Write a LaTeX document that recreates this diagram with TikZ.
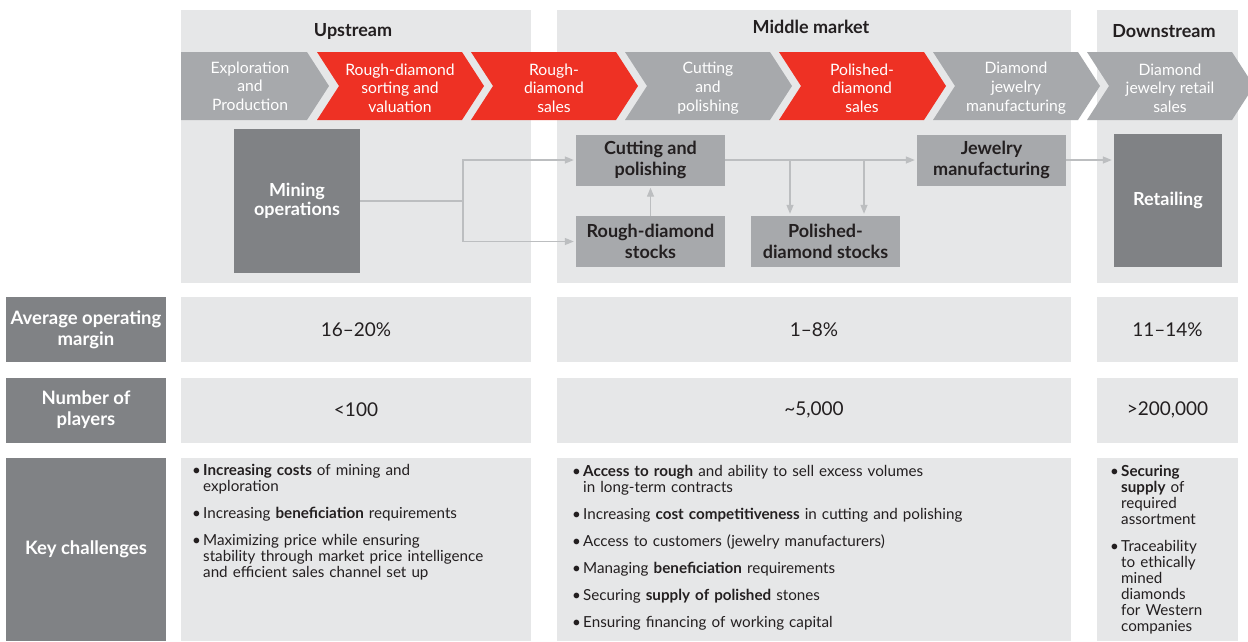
\documentclass[tikz,border=0pt]{standalone}
\usepackage{fontspec}
\setmainfont{Lato}
\usetikzlibrary{arrows.meta}
\definecolor{panelgray}{HTML}{E6E7E8}
\definecolor{chevgray}{HTML}{A7A9AC}
\definecolor{chevred}{HTML}{EE3124}
\definecolor{darkgray}{HTML}{808285}
\definecolor{midgray}{HTML}{A7A9AC}
\definecolor{linegray}{HTML}{BCBEC0}
\definecolor{inkgray}{HTML}{231F20}
\newcommand\keyitem[1]{\hangindent=11pt\hangafter=1\noindent\makebox[11pt][l]{\textbullet}#1\par\vspace{11pt}}
\tikzset{
  panel/.style={fill=panelgray},
  headtext/.style={font=\fontsize{18}{21}\selectfont\bfseries, text=inkgray},
  chevtext/.style={align=center, text=white, inner sep=0, font=\fontsize{15.7}{18.7}\selectfont},
  darkbox/.style={fill=darkgray, text=white, align=center, inner sep=0, font=\fontsize{18}{19}\selectfont\bfseries},
  midbox/.style={fill=midgray, text=inkgray, align=center, inner sep=0, minimum width=149, minimum height=51, font=\fontsize{18}{21}\selectfont\bfseries},
  rowlabel/.style={fill=darkgray, text=white, align=center, inner sep=0, minimum width=160, font=\fontsize{18.5}{21}\selectfont\bfseries},
  rowvalue/.style={fill=panelgray, text=inkgray, inner sep=0, minimum height=65, font=\fontsize{19}{21}\selectfont},
  keytext/.style={anchor=north west, inner sep=0, text=inkgray, align=left, font=\fontsize{15.2}{16}\selectfont},
  flow/.style={draw=linegray, line width=1.3pt},
  flowarrow/.style={flow, -{Triangle[length=9pt,width=7pt]}, shorten >=2pt}
}
\begin{document}
\begin{tikzpicture}[x=1pt,y=-1pt]
\useasboundingbox (0,0) rectangle (1248,641);
\fill[white] (0,0) rectangle (1248,641);
% column panels
\fill[panel] (181,10) rectangle (531,283);
\fill[panel] (557,10) rectangle (1071,283);
\fill[panel] (1097,10) rectangle (1238,283);
\node[headtext] (upstream) at (353,31) {Upstream};
\node[headtext] (midmarket) at (811,27) {Middle market};
\node[headtext] (downstream) at (1164,31) {Downstream};
% value chain steps
\fill[chevgray] (181,52) -- (307,52) -- (329,86) -- (307,120) -- (181,120) -- cycle;
\node[chevtext] (explore) at (250,86) {Exploration\\and\\Production};
\foreach \x/\c/\n/\t in {317/chevred/sorting/{Rough-diamond\\sorting and\\valuation},
  471/chevred/roughsales/{Rough-\\diamond\\sales},
  625/chevgray/cutstep/{Cutting\\and\\polishing},
  779/chevred/polsales/{Polished-\\diamond\\sales},
  933/chevgray/jewstep/{Diamond\\jewelry\\manufacturing},
  1087/chevgray/retailstep/{Diamond\\jewelry retail\\sales}}
{
  \fill[\c] (\x,52) -- ++(145,0) -- ++(22,34) -- ++(-22,34) -- ++(-145,0) -- ++(22,-34) -- cycle;
  \node[chevtext] (\n) at (\x+83,88) {\t};
}
% flow of goods
\node[darkbox, minimum width=126, minimum height=144] (mining) at (297,201) {Mining\\operations};
\node[midbox] (cutting) at (650.5,160) {Cutting and\\polishing};
\node[midbox] (roughstock) at (650.5,241.5) {Rough-diamond\\stocks};
\node[midbox] (polstock) at (825.5,241.5) {Polished-\\diamond stocks};
\node[midbox] (jewelry) at (991.5,160) {Jewelry\\manufacturing};
\node[darkbox, minimum width=108, minimum height=133] (retail) at (1168,200.5) {Retailing};
\coordinate (split) at (463,201);
\coordinate (drop1) at (790,160);
\coordinate (drop2) at (864,160);
\draw[flow] (mining.east) -- (split);
\draw[flowarrow] (split) |- (cutting.west);
\draw[flowarrow] (split) |- (roughstock.west);
\draw[flowarrow] (roughstock.north) -- (cutting.south);
\draw[flowarrow] (cutting.east) -- (jewelry.west);
\draw[flowarrow] (drop1) -- (drop1 |- polstock.north);
\draw[flowarrow] (drop2) -- (drop2 |- polstock.north);
\draw[flowarrow] (jewelry.east) -- (jewelry.east -| retail.west);
% rows
\node[rowlabel, minimum height=65] (marginlbl) at (86,329.5) {Average operating\\margin};
\node[rowvalue, minimum width=350] (marginup) at (356,329.5) {16–20\%};
\node[rowvalue, minimum width=514] (marginmid) at (814,329.5) {1–8\%};
\node[rowvalue, minimum width=141] (margindown) at (1167.5,329.5) {11–14\%};
\node[rowlabel, minimum height=65] (playerlbl) at (86,410) {Number of\\players};
\node[rowvalue, minimum width=350] (playerup) at (356,410) {<100};
\node[rowvalue, minimum width=514] (playermid) at (814,410) {\textasciitilde 5,000};
\node[rowvalue, minimum width=141] (playerdown) at (1167.5,410) {>200,000};
\node[rowlabel, minimum height=183] (keylbl) at (86,549.5) {Key challenges};
\fill[panel] (181,458) rectangle (531,641);
\fill[panel] (557,458) rectangle (1071,641);
\fill[panel] (1097,458) rectangle (1238,641);
\node[keytext, text width=330] (keyup) at (192,464) {%
  \keyitem{\textbf{Increasing costs} of mining and\break exploration}
  \keyitem{Increasing \textbf{beneficiation} requirements}
  \keyitem{Maximizing price while ensuring\break stability through market price intelligence\break and efficient sales channel set up}};
\node[keytext, text width=480] (keymid) at (572,464.5) {%
  \keyitem{\textbf{Access to rough} and ability to sell excess volumes\break in long-term contracts}
  \keyitem{Increasing \textbf{cost competitiveness} in cutting and polishing}
  \keyitem{Access to customers (jewelry manufacturers)}
  \keyitem{Managing \textbf{beneficiation} requirements}
  \keyitem{Securing \textbf{supply of polished} stones}
  \keyitem{Ensuring financing of working capital}};
\node[keytext, text width=135] (keydown) at (1110,465) {%
  \keyitem{\textbf{Securing}\break \textbf{supply} of\break required\break assortment}
  \keyitem{Traceability\break to ethically\break mined\break diamonds\break for Western\break companies}};
\end{tikzpicture}
\end{document}
